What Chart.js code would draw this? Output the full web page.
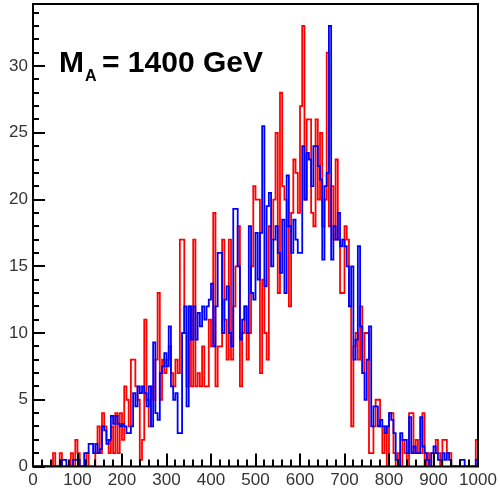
<!DOCTYPE html>
<html>
<head>
<meta charset="utf-8">
<script src="https://cdn.jsdelivr.net/npm/chart.js@4"></script>
<style>
  html, body { margin: 0; padding: 0; background: #fff; }
  canvas { display: block; }
</style>
</head>
<body>
<canvas id="histChart" width="500" height="491"></canvas>
<script>
// 200 bins of width 5 from 0 to 1000
const BIN_WIDTH = 5;
const X_MIN = 0;
const X_MAX = 1000;
const Y_MAX = 34.65;
const xTickValues = [0, 100, 200, 300, 400, 500, 600, 700, 800, 900, 1000];
const yTickValues = [0, 5, 10, 15, 20, 25, 30];

const redCounts = [
  0, 0, 0, 0, 0, 0, 0, 0, 0, 1,
  0, 0, 1, 0, 0, 0, 0, 1, 0, 2,
  1, 0, 0, 0, 1, 0, 0, 0, 1, 3,
  1, 4, 3, 2, 1, 3, 1, 4, 1, 4,
  2, 6, 5, 3, 8, 8, 6, 5, 0.5, 2,
  11, 5, 3, 6, 5, 8, 13, 5, 8, 7,
  8, 9, 7, 6, 8, 7, 17, 17, 10, 6,
  12, 6, 17, 6, 7, 6, 9, 6, 6, 11,
  9, 19, 6, 9, 9, 17, 11, 8, 17, 8,
  12, 15, 18, 6, 10, 12, 8, 10, 15, 21,
  20, 20, 7, 14, 10, 8, 18, 17, 20, 25,
  13, 28, 21, 20, 18, 12, 19, 23, 22, 19,
  27, 33, 20, 26, 26, 19, 18, 26, 20, 25,
  18, 20, 31, 18, 21, 17, 23, 17, 13, 13,
  18, 17, 12, 3, 9, 10, 8, 12, 7, 10,
  10, 1, 1, 3, 5, 5, 3, 1, 3, 0,
  4, 4, 1, 0, 1, 0, 2, 1, 0, 4,
  4, 1, 2, 1, 1, 4, 0, 1, 0, 1,
  1, 2, 1, 0, 2, 2, 1, 1, 0, 0,
  0, 0, 0, 0, 0, 0, 0, 0, 0, 2
];

const blueCounts = [
  0, 0, 0, 0, 0, 0, 0, 0, 0, 0,
  0, 0, 0, 0.5, 0.5, 0, 0, 0, 0.5, 0.5,
  0.5, 0, 0, 1, 1, 1.7, 1.7, 1, 1.7, 1,
  1.3, 3, 2.7, 1.7, 2, 3.8, 3.2, 3.8, 3.2, 3,
  3.2, 3, 2.5, 2.5, 3, 5.5, 4.5, 6, 5.5, 6,
  5.5, 4.5, 6, 3, 9.3, 4, 3.5, 7, 7.5, 8.5,
  7.5, 10.5, 6, 5, 5.5, 2.5, 2.5, 10, 12, 4.5,
  12, 9.5, 12, 9.5, 11.5, 10.5, 12, 11, 12, 12.5,
  13.7, 9, 12, 16, 16, 10, 12.5, 13.5, 10, 9,
  19.3, 19.3, 15, 9.5, 11, 12, 10, 18, 13, 12.5,
  17.5, 14, 17.5, 25.5, 13.5, 19.5, 20.5, 15, 17, 18,
  16, 14.5, 18.5, 13, 21.8, 18, 16, 18.5, 17, 16,
  16, 24, 20, 23.5, 23, 21, 24, 24, 22.5, 21.5,
  15.5, 21, 22, 33, 15.5, 18, 17, 19, 16.5, 17,
  16.5, 15, 12, 15, 8, 9.5, 16.5, 10.5, 7, 5,
  8, 10.5, 3, 4.5, 4.5, 3, 3.5, 3, 2.5, 3,
  4, 3.5, 2.5, 0.5, 0, 2.5, 2, 2, 1, 3.7,
  1, 1.5, 1, 1, 3.7, 1.5, 1, 0.5, 0, 1,
  1.5, 1, 0.5, 0.5, 1, 0.5, 1, 0.5, 0, 0,
  0, 0, 0.5, 0.5, 0, 0, 0, 0, 0, 0.5
];

const FONT = "'Liberation Sans', Arial, Helvetica, sans-serif";

// left bin edges with the bin value; last point closes the final bin
function toSteps(counts) {
  const pts = counts.map((v, i) => ({ x: X_MIN + i * BIN_WIDTH, y: v }));
  pts.push({ x: X_MAX, y: counts[counts.length - 1] });
  return pts;
}

// ROOT-style frame with ticks drawn inside, plus the label
const framePlugin = {
  id: 'frame',
  afterDatasetsDraw(chart) {
    const { ctx, chartArea: a, scales } = chart;
    const xs = scales.x, ys = scales.y;
    ctx.save();
    ctx.strokeStyle = '#000';
    ctx.lineWidth = 2;
    ctx.beginPath();
    for (let v = 0; v <= 34; v++) {
      const y = Math.round(ys.getPixelForValue(v));
      const len = v % 5 === 0 ? 12 : 6;
      ctx.moveTo(a.left, y);
      ctx.lineTo(a.left + len, y);
    }
    for (let v = 0; v <= X_MAX; v += 20) {
      const x = Math.round(xs.getPixelForValue(v));
      const len = v % 100 === 0 ? 13 : 7;
      ctx.moveTo(x, a.bottom);
      ctx.lineTo(x, a.bottom - len);
    }
    ctx.stroke();
    ctx.strokeRect(a.left, a.top, a.right - a.left, a.bottom - a.top);

    ctx.fillStyle = '#000';
    ctx.textBaseline = 'alphabetic';
    ctx.font = 'bold 30px ' + FONT;
    ctx.fillText('M', 59, 72);
    ctx.font = 'bold 16px ' + FONT;
    ctx.fillText('A', 85, 81);
    ctx.font = 'bold 30px ' + FONT;
    ctx.fillText('= 1400 GeV', 102, 72);
    ctx.restore();
  }
};

new Chart(document.getElementById('histChart').getContext('2d'), {
  type: 'line',
  data: {
    datasets: [
      {
        label: 'blue',
        data: toSteps(blueCounts),
        borderColor: '#0000ff',
        borderWidth: 1.8,
        stepped: 'before',
        pointRadius: 0,
        fill: false
      },
      {
        label: 'red',
        data: toSteps(redCounts),
        borderColor: '#ff0000',
        borderWidth: 1.8,
        stepped: 'before',
        pointRadius: 0,
        fill: false
      }
    ]
  },
  options: {
    responsive: false,
    animation: false,
    layout: { padding: { top: 4, right: 22, left: 0, bottom: 0 } },
    plugins: { legend: { display: false }, tooltip: { enabled: false } },
    scales: {
      x: {
        type: 'linear',
        min: X_MIN,
        max: X_MAX,
        grid: { display: false, drawTicks: false },
        border: { display: false },
        afterBuildTicks(scale) { scale.ticks = xTickValues.map(v => ({ value: v })); },
        ticks: {
          maxRotation: 0,
          autoSkip: false,
          padding: 4,
          color: '#333',
          font: { family: FONT, size: 17 },
          callback: v => String(v)
        },
        afterFit(scale) {
          scale.height = 24.5;
          scale.paddingLeft = 0;
          scale.paddingRight = 0;
        }
      },
      y: {
        min: 0,
        max: Y_MAX,
        grid: { display: false, drawTicks: false },
        border: { display: false },
        afterBuildTicks(scale) { scale.ticks = yTickValues.map(v => ({ value: v })); },
        ticks: {
          padding: 5,
          color: '#333',
          font: { family: FONT, size: 17 },
          callback: v => String(v)
        },
        afterFit(scale) {
          scale.width = 33;
          scale.paddingTop = 0;
          scale.paddingBottom = 0;
        }
      }
    }
  },
  plugins: [framePlugin]
});
</script>
</body>
</html>
